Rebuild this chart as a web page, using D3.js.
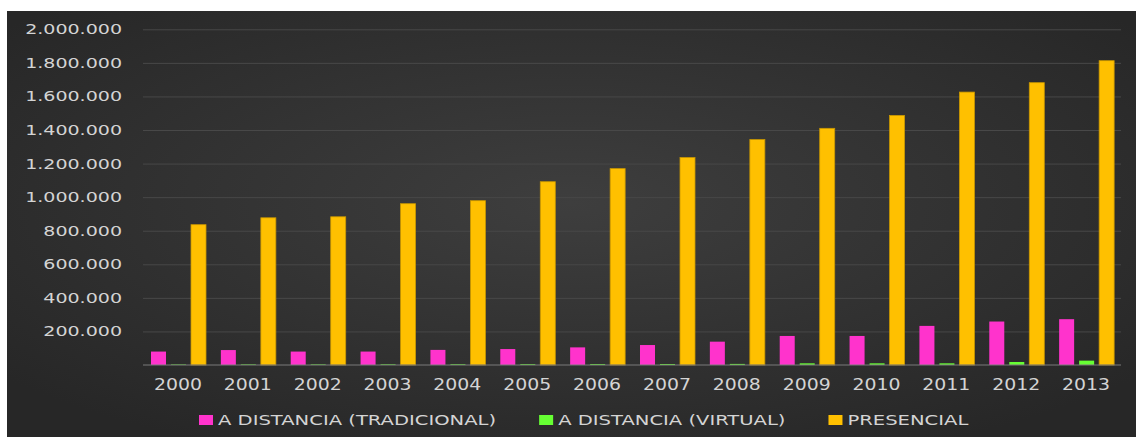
<!DOCTYPE html>
<meta charset="utf-8">
<style>
body { margin: 0; background: #fff; }
.axis text, .legend text {
  fill: #d4d4d4;
  font-family: "DejaVu Sans", sans-serif;
}
.axis path, .axis line { display: none; }
.grid line { stroke: #484848; stroke-width: 1; }
</style>
<svg width="1136" height="437"></svg>
<script src="https://cdn.jsdelivr.net/npm/d3@7"></script>
<script>

var years = ["2000", "2001", "2002", "2003", "2004", "2005", "2006",
             "2007", "2008", "2009", "2010", "2011", "2012", "2013"];
var series = ["A DISTANCIA (TRADICIONAL)", "A DISTANCIA (VIRTUAL)", "PRESENCIAL"];
var colors = ["#ff33cc", "#66ff33", "#ffc000"];
var tradicional = [80000, 89000, 80000, 80000, 90000, 95000, 105000,
                   119000, 139000, 173000, 173000, 233000, 259000, 273000];
var virtual = [3000, 3500, 3500, 4000, 4500, 5000, 5500,
               6000, 6500, 10000, 10000, 10000, 18000, 26000];
var presencial = [836000, 877000, 883000, 961000, 979000, 1092000, 1170000,
                  1236000, 1343000, 1410000, 1487000, 1626000, 1682000, 1813000];
var yTicks = [200000, 400000, 600000, 800000, 1000000, 1200000,
              1400000, 1600000, 1800000, 2000000];

var svg = d3.select("svg");

// dark panel with a soft light centre
var defs = svg.append("defs");
var grad = defs.append("radialGradient")
    .attr("id", "bg")
    .attr("cx", "50%").attr("cy", "45%").attr("r", "65%");
grad.append("stop").attr("offset", "0%").attr("stop-color", "#3e3e3e");
grad.append("stop").attr("offset", "100%").attr("stop-color", "#272727");

svg.append("rect")
    .attr("x", 7).attr("y", 11)
    .attr("width", 1129).attr("height", 426)
    .attr("fill", "url(#bg)");

var x = d3.scaleBand().domain(years).range([143, 1121]);
var xs = d3.scaleBand().domain(series).range([8, 63]).paddingInner(0.25);
var y = d3.scaleLinear().domain([0, 2000000]).range([365, 29.3]);

var fmt = d3.formatLocale({decimal: ",", thousands: ".", grouping: [3], currency: ["", ""]}).format(",.0f");

// gridlines
svg.append("g")
    .attr("class", "grid")
    .attr("transform", "translate(143,0)")
    .call(d3.axisLeft(y).tickValues(yTicks).tickSize(-978).tickFormat(""))
    .call(function(g) { g.select(".domain").remove(); });

// y labels
var yAxis = svg.append("g")
    .attr("class", "axis")
    .attr("transform", "translate(122,0)")
    .call(d3.axisLeft(y).tickValues(yTicks).tickFormat(fmt).tickSize(0).tickPadding(0));
yAxis.selectAll("text")
    .attr("x", 0)
    .style("font-size", "14px")
    .attr("transform", "scale(1.36,1)");

// bars
var data = years.map(function(yr, i) {
  return {year: yr, values: [tradicional[i], virtual[i], presencial[i]]};
});

var groups = svg.append("g").selectAll("g")
    .data(data)
  .enter().append("g")
    .attr("transform", function(d) { return "translate(" + x(d.year) + ",0)"; });

groups.selectAll("rect")
    .data(function(d) { return d.values.map(function(v, j) { return {key: series[j], value: v, idx: j}; }); })
  .enter().append("rect")
    .attr("x", function(d) { return xs(d.key); })
    .attr("width", xs.bandwidth())
    .attr("y", function(d) { return y(d.value); })
    .attr("height", function(d) { return y(0) - y(d.value); })
    .attr("fill", function(d) { return colors[d.idx]; })
    .attr("stroke", function(d) { return d.idx == 2 ? "#c99700" : "none"; })
    .attr("stroke-width", 0.8);

// zero line
svg.append("line")
    .attr("x1", 143).attr("x2", 1121)
    .attr("y1", y(0)).attr("y2", y(0))
    .attr("stroke", "#7a7a7a")
    .attr("stroke-width", 1.2);

// x axis labels
var xAxis = svg.append("g")
    .attr("class", "axis")
    .attr("transform", "translate(0," + y(0) + ")")
    .call(d3.axisBottom(x).tickSize(0).tickPadding(0));
xAxis.selectAll("text")
    .attr("y", 0)
    .attr("dy", 0)
    .attr("x", 0)
    .style("font-size", "16px")
    .attr("transform", "translate(0,25) scale(1.18,1)");

// legend
var legend = svg.append("g").attr("class", "legend");
var lx = 199;
series.forEach(function(s, i) {
  var item = legend.append("g").attr("transform", "translate(" + lx + ",0)");
  item.append("rect")
      .attr("x", 0).attr("y", 415)
      .attr("width", 14).attr("height", 10)
      .attr("fill", colors[i]);
  var t = item.append("text")
      .attr("transform", "translate(19,425) scale(1.34,1)")
      .style("font-size", "14.6px")
      .text(s);
  lx += 19 + t.node().getComputedTextLength() * 1.34 + 43;
});

</script>
